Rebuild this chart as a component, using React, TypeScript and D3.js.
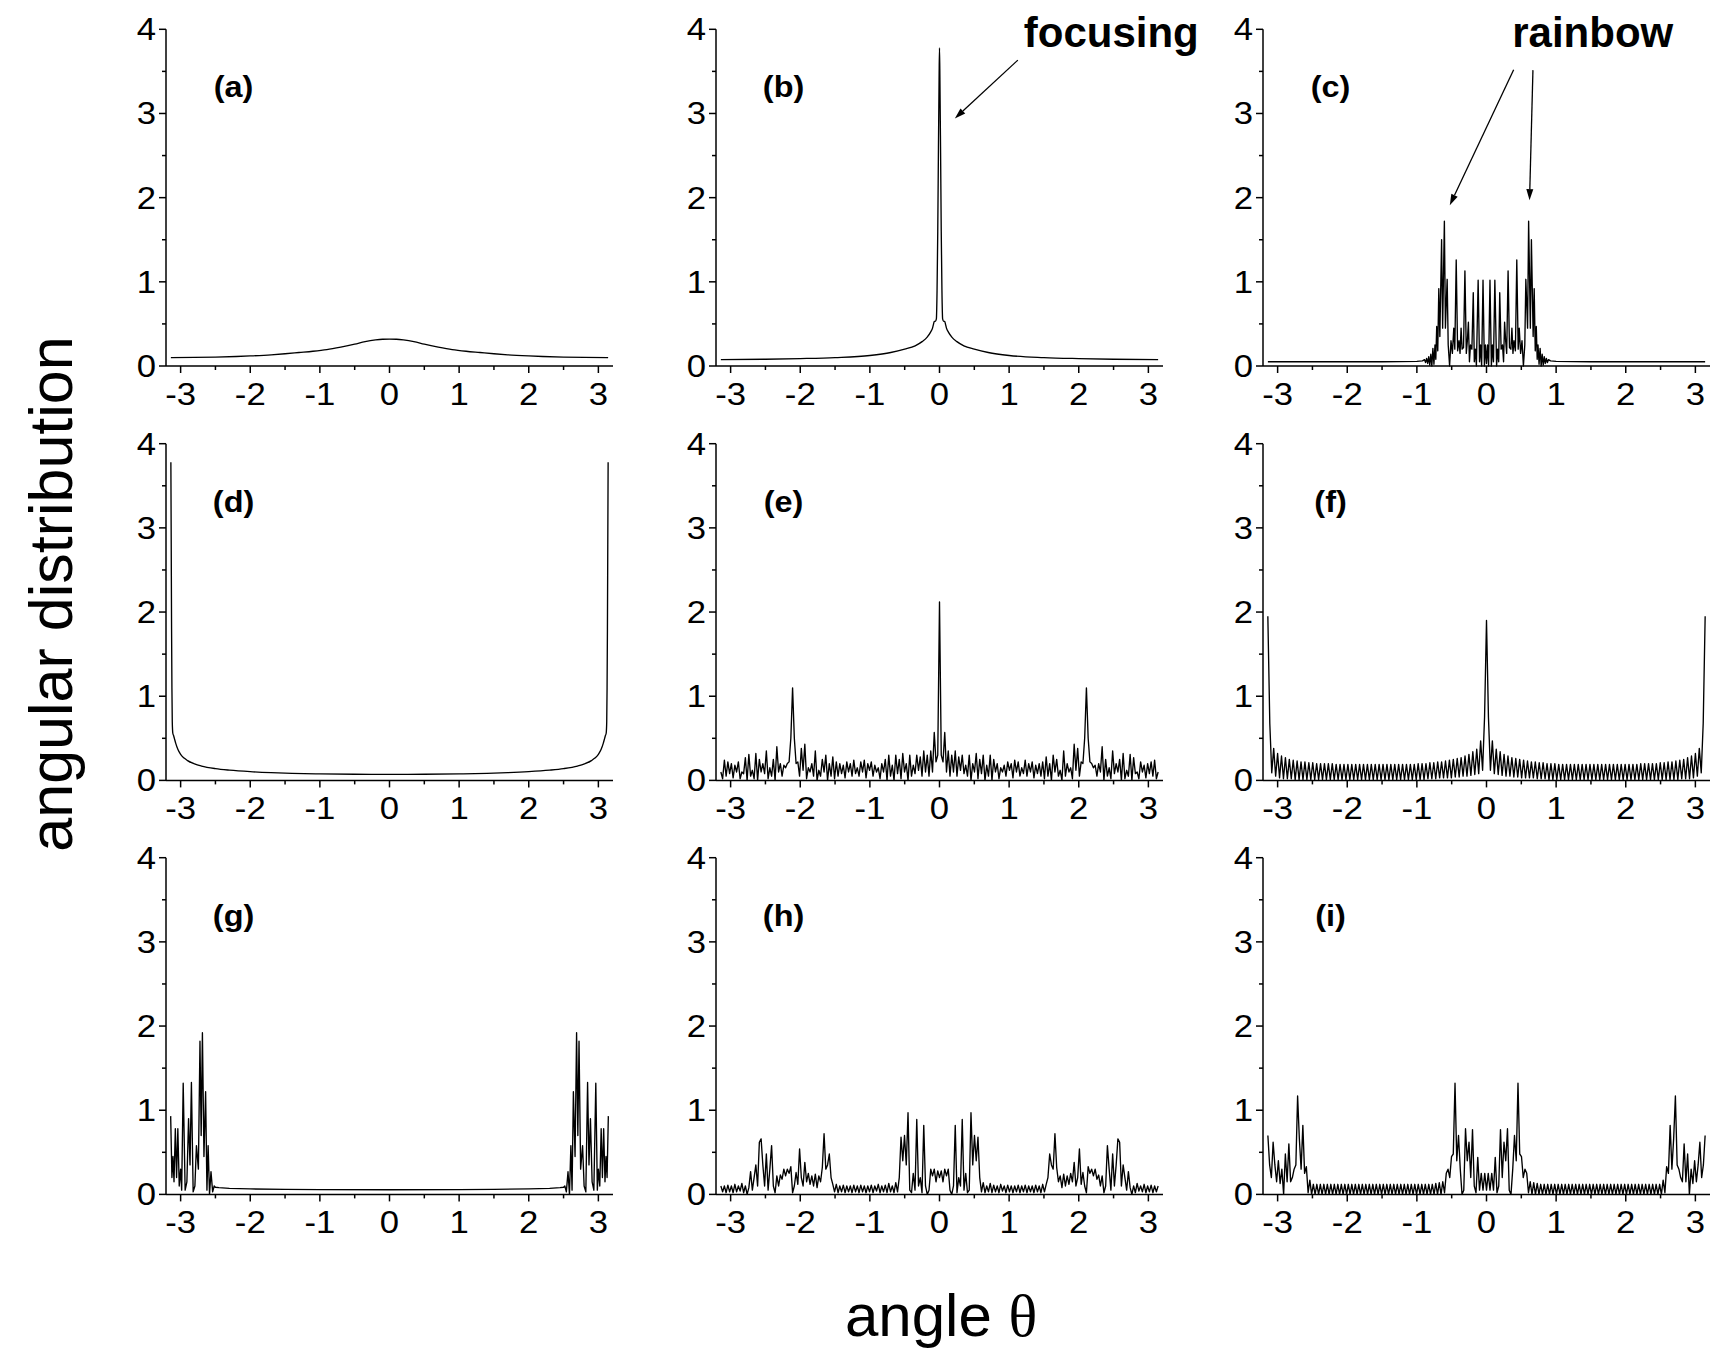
import React from "react";
import * as d3 from "d3";

// ---------- axes / ticks ----------
const thetaDomain: [number, number] = [-3.21, 3.21];
const valueDomain: [number, number] = [0, 4];
const xMajorTicks = [-3, -2, -1, 0, 1, 2, 3];
const xTickLabels = ["-3", "-2", "-1", "0", "1", "2", "3"];
const xMinorTicks = [-2.5, -1.5, -0.5, 0.5, 1.5, 2.5];
const yMajorTicks = [0, 1, 2, 3, 4];
const yTickLabels = ["0", "1", "2", "3", "4"];
const yMinorTicks = [0.5, 1.5, 2.5, 3.5];
const panelLabels = ["(a)", "(b)", "(c)", "(d)", "(e)", "(f)", "(g)", "(h)", "(i)"];

// ---------- data (listed from θ=0 outward) ----------
// pairs: [|θ| offset, value]
const aLeft: [number, number][] = [[0,0.32],[0.1,0.318],[0.2,0.31],[0.35,0.29],[0.5,0.26],[0.7,0.225],[0.9,0.195],[1.1,0.175],[1.3,0.16],[1.5,0.145],[1.7,0.133],[2.0,0.12],[2.2,0.113],[2.5,0.106],[2.8,0.102],[3.14,0.1]];
const aRight: [number, number][] = [[0,0.32],[0.1,0.318],[0.2,0.31],[0.35,0.29],[0.5,0.26],[0.7,0.225],[0.9,0.195],[1.1,0.175],[1.3,0.16],[1.5,0.145],[1.7,0.133],[2.0,0.12],[2.2,0.113],[2.5,0.106],[2.8,0.102],[3.14,0.1]];

const bLeft: [number, number][] = [[0,3.78],[0.006,3.4],[0.015,2.6],[0.025,1.6],[0.035,0.9],[0.045,0.56],[0.06,0.53],[0.075,0.53],[0.085,0.5],[0.1,0.45],[0.13,0.4],[0.18,0.34],[0.25,0.29],[0.35,0.24],[0.5,0.2],[0.7,0.16],[1.0,0.125],[1.5,0.1],[2.0,0.088],[2.5,0.08],[3.14,0.075]];
const bRight: [number, number][] = [[0,3.78],[0.006,3.4],[0.015,2.6],[0.025,1.6],[0.035,0.9],[0.045,0.56],[0.06,0.53],[0.075,0.53],[0.085,0.5],[0.1,0.45],[0.13,0.4],[0.18,0.34],[0.25,0.29],[0.35,0.24],[0.5,0.2],[0.7,0.16],[1.0,0.125],[1.5,0.1],[2.0,0.088],[2.5,0.08],[3.14,0.075]];

const cLeft: [number, number][] = [[0,0.03],[0.015,0.25],[0.03,0.0],[0.05,1.02],[0.07,0.0],[0.085,0.25],[0.1,0.05],[0.12,1.02],[0.145,0.0],[0.16,0.2],[0.175,0.05],[0.19,0.87],[0.21,0.2],[0.23,0.25],[0.245,0.05],[0.26,0.52],[0.275,0.3],[0.29,0.15],[0.31,1.13],[0.33,0.22],[0.35,0.2],[0.365,0.45],[0.38,0.15],[0.395,0.3],[0.415,0.18],[0.435,1.26],[0.455,0.2],[0.47,0.45],[0.49,0.15],[0.51,0.3],[0.53,0.0],[0.55,0.25],[0.565,1.03],[0.59,0.45],[0.605,1.72],[0.63,0.45],[0.645,1.5],[0.67,0.35],[0.685,0.92],[0.7,0.18],[0.715,0.47],[0.728,0.08],[0.74,0.25],[0.755,0.02],[0.77,0.21],[0.785,0.0],[0.8,0.14],[0.815,0.01],[0.83,0.11],[0.845,0.03],[0.86,0.09],[0.875,0.04],[0.89,0.075],[0.92,0.06],[1.0,0.055],[1.5,0.05],[2.0,0.05],[2.5,0.05],[3.14,0.05]];
const cRight: [number, number][] = [[0,0.03],[0.015,0.25],[0.03,0.0],[0.05,1.02],[0.07,0.0],[0.085,0.25],[0.1,0.05],[0.12,1.02],[0.145,0.0],[0.16,0.2],[0.175,0.05],[0.19,0.87],[0.21,0.2],[0.23,0.25],[0.245,0.05],[0.26,0.52],[0.275,0.3],[0.29,0.15],[0.31,1.13],[0.33,0.22],[0.35,0.2],[0.365,0.45],[0.38,0.15],[0.395,0.3],[0.415,0.18],[0.435,1.26],[0.455,0.2],[0.47,0.45],[0.49,0.15],[0.51,0.3],[0.53,0.0],[0.55,0.25],[0.565,1.03],[0.59,0.45],[0.605,1.72],[0.63,0.45],[0.645,1.5],[0.67,0.35],[0.685,0.92],[0.7,0.18],[0.715,0.47],[0.728,0.08],[0.74,0.25],[0.755,0.02],[0.77,0.21],[0.785,0.0],[0.8,0.14],[0.815,0.01],[0.83,0.11],[0.845,0.03],[0.86,0.09],[0.875,0.04],[0.89,0.075],[0.92,0.06],[1.0,0.055],[1.5,0.05],[2.0,0.05],[2.5,0.05],[3.14,0.05]];

const dLeft: [number, number][] = [[0,0.072],[0.5,0.073],[1.0,0.077],[1.4,0.084],[1.7,0.092],[2.0,0.104],[2.3,0.122],[2.5,0.14],[2.7,0.17],[2.8,0.195],[2.9,0.235],[2.95,0.265],[3.0,0.31],[3.04,0.37],[3.07,0.44],[3.09,0.5],[3.1,0.53],[3.112,0.56],[3.12,0.7],[3.125,1.1],[3.13,1.8],[3.135,2.8],[3.14,3.78]];
const dRight: [number, number][] = [[0,0.072],[0.5,0.073],[1.0,0.077],[1.4,0.084],[1.7,0.092],[2.0,0.104],[2.3,0.122],[2.5,0.14],[2.7,0.17],[2.8,0.195],[2.9,0.235],[2.95,0.265],[3.0,0.31],[3.04,0.37],[3.07,0.44],[3.09,0.5],[3.1,0.53],[3.112,0.56],[3.12,0.7],[3.125,1.1],[3.13,1.8],[3.135,2.8],[3.14,3.78]];

const gLeft: [number, number][] = [[0,0.055],[1.0,0.057],[1.5,0.06],[2.0,0.065],[2.3,0.072],[2.45,0.08],[2.5,0.085],[2.518,0.1],[2.54,0.03],[2.564,0.27],[2.585,0.0],[2.605,0.58],[2.622,0.05],[2.641,1.22],[2.665,0.45],[2.687,1.92],[2.705,0.7],[2.722,1.82],[2.745,0.3],[2.773,0.58],[2.795,0.1],[2.82,0.03],[2.845,1.33],[2.865,0.35],[2.886,0.9],[2.91,0.15],[2.935,0.05],[2.963,1.32],[2.985,0.05],[3.0,0.3],[3.02,0.1],[3.04,0.78],[3.058,0.2],[3.076,0.78],[3.095,0.15],[3.11,0.45],[3.125,0.2],[3.143,0.93]];
const gRight: [number, number][] = [[0,0.055],[1.0,0.057],[1.5,0.06],[2.0,0.065],[2.3,0.072],[2.45,0.08],[2.5,0.085],[2.518,0.1],[2.54,0.03],[2.564,0.27],[2.585,0.0],[2.605,0.58],[2.622,0.05],[2.641,1.22],[2.665,0.45],[2.687,1.92],[2.705,0.7],[2.722,1.82],[2.745,0.3],[2.773,0.58],[2.795,0.1],[2.82,0.03],[2.845,1.33],[2.865,0.35],[2.886,0.9],[2.91,0.15],[2.935,0.05],[2.963,1.32],[2.985,0.05],[3.0,0.3],[3.02,0.1],[3.04,0.78],[3.058,0.2],[3.076,0.78],[3.095,0.15],[3.11,0.45],[3.125,0.2],[3.143,0.93]];

// uniform θ grids, values listed from θ=0 outward
const stepE = 0.02512;
const eLeft = [2.12,0.3,0.22,0.57,0.1,0.35,0.05,0.3,0.1,0.35,0.05,0.28,0.12,0.3,0.08,0.18,0.05,0.3,0.0,0.2,0.1,0.32,0.02,0.25,0.08,0.3,0.0,0.18,0.05,0.3,0.0,0.25,0.1,0.2,0.02,0.15,0.1,0.18,0.05,0.22,0.12,0.2,0.03,0.24,0.1,0.22,0.05,0.15,0.08,0.24,0.05,0.2,0.1,0.22,0.03,0.18,0.08,0.2,0.05,0.22,0.02,0.28,0.05,0.2,0.0,0.3,0.1,0.25,0.05,0.12,0.0,0.35,0.05,0.2,0.1,0.15,0.02,0.43,0.12,0.38,0.05,0.22,0.2,0.5,1.1,0.5,0.22,0.2,0.15,0.18,0.05,0.2,0.1,0.4,0.0,0.25,0.05,0.15,0.02,0.35,0.08,0.2,0.1,0.25,0.0,0.32,0.02,0.12,0.05,0.31,0.0,0.27,0.08,0.1,0.02,0.22,0.1,0.18,0.03,0.2,0.08,0.22,0.05,0.24,0.02,0.1];
const eRight = [2.12,0.3,0.22,0.57,0.1,0.35,0.05,0.3,0.1,0.35,0.05,0.28,0.12,0.3,0.08,0.18,0.05,0.3,0.0,0.2,0.1,0.32,0.02,0.25,0.08,0.3,0.0,0.18,0.05,0.3,0.0,0.25,0.1,0.2,0.02,0.15,0.1,0.18,0.05,0.22,0.12,0.2,0.03,0.24,0.1,0.22,0.05,0.15,0.08,0.24,0.05,0.2,0.1,0.22,0.03,0.18,0.08,0.2,0.05,0.22,0.02,0.28,0.05,0.2,0.0,0.3,0.1,0.25,0.05,0.12,0.0,0.35,0.05,0.2,0.1,0.15,0.02,0.43,0.12,0.38,0.05,0.22,0.2,0.5,1.1,0.5,0.22,0.2,0.15,0.18,0.05,0.2,0.1,0.4,0.0,0.25,0.05,0.15,0.02,0.35,0.08,0.2,0.1,0.25,0.0,0.32,0.02,0.12,0.05,0.31,0.0,0.27,0.08,0.1,0.02,0.22,0.1,0.18,0.03,0.2,0.08,0.22,0.05,0.24,0.02,0.1];

const stepF = 0.02804;
const fLeft = [1.9,0.75,0.12,0.47,0.08,0.37,0.07,0.34,0.06,0.31,0.05,0.29,0.05,0.27,0.04,0.26,0.04,0.25,0.03,0.24,0.03,0.23,0.03,0.22,0.03,0.22,0.02,0.21,0.02,0.21,0.02,0.2,0.01,0.2,0.01,0.2,0.01,0.19,0.01,0.19,0.01,0.19,0.01,0.19,0.01,0.19,0.01,0.19,0.01,0.19,0.01,0.19,0.01,0.19,0.01,0.19,0.01,0.19,0.01,0.19,0.01,0.19,0.01,0.19,0.01,0.19,0.01,0.19,0.01,0.19,0.01,0.19,0.01,0.19,0.01,0.19,0.01,0.19,0.01,0.2,0.01,0.2,0.01,0.2,0.01,0.2,0.01,0.2,0.01,0.21,0.01,0.21,0.01,0.22,0.01,0.22,0.01,0.23,0.01,0.24,0.02,0.25,0.02,0.27,0.02,0.29,0.03,0.32,0.05,0.38,0.09,0.68,1.95];
const fRight = [1.9,0.75,0.12,0.47,0.08,0.37,0.07,0.34,0.06,0.31,0.05,0.29,0.05,0.27,0.04,0.26,0.04,0.25,0.03,0.24,0.03,0.23,0.03,0.22,0.03,0.22,0.02,0.21,0.02,0.21,0.02,0.2,0.01,0.2,0.01,0.2,0.01,0.19,0.01,0.19,0.01,0.19,0.01,0.19,0.01,0.19,0.01,0.19,0.01,0.19,0.01,0.19,0.01,0.19,0.01,0.19,0.01,0.19,0.01,0.19,0.01,0.19,0.01,0.19,0.01,0.19,0.01,0.19,0.01,0.19,0.01,0.19,0.01,0.19,0.01,0.19,0.01,0.19,0.01,0.2,0.01,0.2,0.01,0.2,0.01,0.2,0.01,0.2,0.01,0.21,0.01,0.21,0.01,0.22,0.01,0.22,0.01,0.23,0.01,0.24,0.02,0.25,0.02,0.27,0.02,0.29,0.03,0.32,0.05,0.38,0.09,0.68,1.95];

const stepH = 0.02512;
const hLeft = [0.2,0.28,0.15,0.3,0.22,0.3,0.05,0.0,0.1,0.82,0.02,0.2,0.1,0.89,0.05,0.25,0.02,0.05,0.97,0.35,0.7,0.4,0.68,0.2,0.03,0.14,0.02,0.1,0.03,0.13,0.02,0.11,0.03,0.1,0.02,0.12,0.04,0.1,0.02,0.11,0.03,0.1,0.02,0.1,0.03,0.11,0.02,0.1,0.03,0.11,0.02,0.1,0.03,0.1,0.02,0.11,0.03,0.1,0.02,0.12,0.03,0.12,0.2,0.48,0.35,0.3,0.72,0.32,0.15,0.22,0.08,0.24,0.1,0.22,0.12,0.25,0.15,0.38,0.1,0.2,0.54,0.12,0.26,0.1,0.02,0.33,0.25,0.3,0.22,0.3,0.18,0.23,0.1,0.22,0.02,0.1,0.58,0.3,0.05,0.48,0.1,0.35,0.66,0.62,0.1,0.35,0.2,0.05,0.27,0.08,0.0,0.1,0.02,0.13,0.04,0.1,0.03,0.12,0.02,0.1,0.03,0.11,0.02,0.1,0.03,0.1];
const hRight = [0.2,0.28,0.15,0.3,0.22,0.3,0.05,0.0,0.1,0.82,0.02,0.2,0.1,0.89,0.05,0.25,0.02,0.05,0.97,0.35,0.7,0.4,0.68,0.2,0.03,0.14,0.02,0.1,0.03,0.13,0.02,0.11,0.03,0.1,0.02,0.12,0.04,0.1,0.02,0.11,0.03,0.1,0.02,0.1,0.03,0.11,0.02,0.1,0.03,0.11,0.02,0.1,0.03,0.1,0.02,0.11,0.03,0.1,0.02,0.12,0.03,0.12,0.2,0.48,0.35,0.3,0.72,0.32,0.15,0.22,0.08,0.24,0.1,0.22,0.12,0.25,0.15,0.38,0.1,0.2,0.54,0.12,0.26,0.1,0.02,0.33,0.25,0.3,0.22,0.3,0.18,0.23,0.1,0.22,0.02,0.1,0.58,0.3,0.05,0.48,0.1,0.35,0.66,0.62,0.1,0.35,0.2,0.05,0.27,0.08,0.0,0.1,0.02,0.13,0.04,0.1,0.03,0.12,0.02,0.1,0.03,0.11,0.02,0.1,0.03,0.1];

const stepI = 0.02512;
const iLeft = [0.05,0.25,0.05,0.25,0.05,0.44,0.02,0.1,0.77,0.2,0.62,0.4,0.78,0.05,0.0,0.3,0.7,0.4,1.32,0.48,0.45,0.2,0.3,0.25,0.02,0.15,0.0,0.14,0.0,0.13,0.0,0.12,0.0,0.12,0.0,0.12,0.0,0.12,0.0,0.12,0.0,0.12,0.0,0.12,0.0,0.12,0.0,0.12,0.0,0.12,0.0,0.12,0.0,0.12,0.0,0.12,0.0,0.12,0.0,0.12,0.0,0.12,0.0,0.12,0.0,0.12,0.0,0.12,0.0,0.12,0.0,0.12,0.0,0.12,0.0,0.12,0.0,0.12,0.0,0.12,0.0,0.12,0.0,0.12,0.0,0.12,0.0,0.12,0.0,0.12,0.0,0.12,0.0,0.12,0.0,0.12,0.0,0.12,0.0,0.12,0.0,0.17,0.02,0.33,0.25,0.82,0.3,0.66,1.17,0.35,0.3,0.2,0.15,0.6,0.15,0.48,0.0,0.3,0.13,0.4,0.15,0.35,0.62,0.2,0.35,0.7];
const iRight = [0.05,0.25,0.05,0.25,0.05,0.44,0.02,0.1,0.77,0.2,0.62,0.4,0.78,0.05,0.0,0.3,0.7,0.4,1.32,0.48,0.45,0.2,0.3,0.25,0.02,0.15,0.0,0.14,0.0,0.13,0.0,0.12,0.0,0.12,0.0,0.12,0.0,0.12,0.0,0.12,0.0,0.12,0.0,0.12,0.0,0.12,0.0,0.12,0.0,0.12,0.0,0.12,0.0,0.12,0.0,0.12,0.0,0.12,0.0,0.12,0.0,0.12,0.0,0.12,0.0,0.12,0.0,0.12,0.0,0.12,0.0,0.12,0.0,0.12,0.0,0.12,0.0,0.12,0.0,0.12,0.0,0.12,0.0,0.12,0.0,0.12,0.0,0.12,0.0,0.12,0.0,0.12,0.0,0.12,0.0,0.12,0.0,0.12,0.0,0.12,0.0,0.17,0.02,0.33,0.25,0.82,0.3,0.66,1.17,0.35,0.3,0.2,0.15,0.6,0.15,0.48,0.0,0.3,0.13,0.4,0.15,0.35,0.62,0.2,0.35,0.7];

// annotations (data coordinates of the panel they sit in)
const focusingArrows = [{ from: [1.125, 3.634], to: [0.22, 2.94] }];
const rainbowArrows = [
  { from: [0.39, 3.52], to: [-0.527, 1.91] },
  { from: [0.667, 3.515], to: [0.618, 1.97] },
];

// ---------- assembly ----------
type Pt = [number, number];
function fromPairs(left: Pt[], right: Pt[]): Pt[] {
  const pts: Pt[] = [];
  for (let k = left.length - 1; k >= 1; k--) pts.push([-left[k][0], left[k][1]]);
  for (const p of right) pts.push([p[0], p[1]]);
  return pts;
}
function fromGrid(step: number, left: number[], right: number[]): Pt[] {
  const pts: Pt[] = [];
  for (let k = left.length - 1; k >= 1; k--) pts.push([-k * step, left[k]]);
  for (let k = 0; k < right.length; k++) pts.push([k * step, right[k]]);
  return pts;
}

const seriesList: { data: Pt[]; smooth: boolean }[] = [
  { data: fromPairs(aLeft, aRight), smooth: true },
  { data: fromPairs(bLeft, bRight), smooth: true },
  { data: fromPairs(cLeft, cRight), smooth: false },
  { data: fromPairs(dLeft, dRight), smooth: true },
  { data: fromGrid(stepE, eLeft, eRight), smooth: false },
  { data: fromGrid(stepF, fLeft, fRight), smooth: false },
  { data: fromPairs(gLeft, gRight), smooth: false },
  { data: fromGrid(stepH, hLeft, hRight), smooth: false },
  { data: fromGrid(stepI, iLeft, iRight), smooth: false },
];

// ---------- layout ----------
const W = 1712;
const H = 1349;
const colLeft = [166, 716, 1263];
const rowTop = [29.3, 443.7, 857.7];
const plotW = 447;
const plotH = 336.7;
const SANS = "'Liberation Sans', Arial, Helvetica, sans-serif";
const TICK_FS = 31;
const TICK_SX = 1.12;

function Arrow({ x1, y1, x2, y2 }: { x1: number; y1: number; x2: number; y2: number }) {
  const dx = x2 - x1, dy = y2 - y1;
  const len = Math.hypot(dx, dy);
  const ux = dx / len, uy = dy / len;
  const L = 11, w = 3.5;
  const bx = x2 - ux * L, by = y2 - uy * L;
  const p1 = `${x2},${y2}`;
  const p2 = `${bx - uy * w},${by + ux * w}`;
  const p3 = `${bx + uy * w},${by - ux * w}`;
  return (
    <g>
      <line x1={x1} y1={y1} x2={bx} y2={by} stroke="#000" strokeWidth={1.3} />
      <polygon points={`${p1} ${p2} ${p3}`} fill="#000" />
    </g>
  );
}

export default function App() {
  return (
    <svg
      width={W}
      height={H}
      viewBox={`0 0 ${W} ${H}`}
      style={{ position: "absolute", left: 0, top: 0, background: "#fff" }}
      fontFamily={SANS}
    >
      <rect x={0} y={0} width={W} height={H} fill="#fff" />
      {seriesList.map((s, i) => {
        const col = i % 3;
        const row = Math.floor(i / 3);
        const x = d3.scaleLinear().domain(thetaDomain).range([colLeft[col], colLeft[col] + plotW]);
        const y = d3.scaleLinear().domain(valueDomain).range([rowTop[row] + plotH, rowTop[row]]);
        const line = d3
          .line<Pt>()
          .x((d) => x(d[0]))
          .y((d) => y(d[1]))
          .curve(s.smooth ? d3.curveMonotoneX : d3.curveLinear);
        const x0 = x(thetaDomain[0]);
        const y0 = y(0);
        return (
          <g key={i}>
            <path d={line(s.data) || ""} fill="none" stroke="#000" strokeWidth={1.35} strokeLinejoin="round" />
            {/* axes */}
            <line x1={x0} y1={y0} x2={x(thetaDomain[1])} y2={y0} stroke="#000" strokeWidth={1.5} />
            <line x1={x0} y1={y0} x2={x0} y2={y(4)} stroke="#000" strokeWidth={1.5} />
            {xMajorTicks.map((t, j) => (
              <g key={"xt" + j}>
                <line x1={x(t)} x2={x(t)} y1={y0} y2={y0 + 7} stroke="#000" strokeWidth={1.5} />
                <text
                  transform={`translate(${x(t)},${y0 + 38.5}) scale(${TICK_SX},1)`}
                  fontSize={TICK_FS}
                  textAnchor="middle"
                  fill="#000"
                >
                  {xTickLabels[j]}
                </text>
              </g>
            ))}
            {xMinorTicks.map((t, j) => (
              <line key={"xm" + j} x1={x(t)} x2={x(t)} y1={y0} y2={y0 + 4} stroke="#000" strokeWidth={1.5} />
            ))}
            {yMajorTicks.map((t, j) => (
              <g key={"yt" + j}>
                <line x1={x0 - 7} x2={x0} y1={y(t)} y2={y(t)} stroke="#000" strokeWidth={1.5} />
                <text
                  transform={`translate(${x0 - 10},${y(t) + 11}) scale(${TICK_SX},1)`}
                  fontSize={TICK_FS}
                  textAnchor="end"
                  fill="#000"
                >
                  {yTickLabels[j]}
                </text>
              </g>
            ))}
            {yMinorTicks.map((t, j) => (
              <line key={"ym" + j} x1={x0 - 4} x2={x0} y1={y(t)} y2={y(t)} stroke="#000" strokeWidth={1.5} />
            ))}
            <text
              transform={`translate(${x(-2.24)},${y(3.19)}) scale(1.08,1)`}
              fontSize={30}
              fontWeight="bold"
              textAnchor="middle"
              fill="#000"
            >
              {panelLabels[i]}
            </text>
            {i === 1 && (
              <g>
                <text x={x(1.21)} y={y(3.79)} fontSize={42} fontWeight="bold" fill="#000">focusing</text>
                {focusingArrows.map((a, k) => (
                  <Arrow key={k} x1={x(a.from[0])} y1={y(a.from[1])} x2={x(a.to[0])} y2={y(a.to[1])} />
                ))}
              </g>
            )}
            {i === 2 && (
              <g>
                <text x={x(0.37)} y={y(3.79)} fontSize={42} fontWeight="bold" fill="#000">rainbow</text>
                {rainbowArrows.map((a, k) => (
                  <Arrow key={k} x1={x(a.from[0])} y1={y(a.from[1])} x2={x(a.to[0])} y2={y(a.to[1])} />
                ))}
              </g>
            )}
          </g>
        );
      })}
      <text
        transform="translate(71.5,594) rotate(-90)"
        fontSize={61}
        textAnchor="middle"
        fill="#000"
      >
        angular distribution
      </text>
      <text x={845} y={1336} fontSize={60} fill="#000">
        angle{" "}
        <tspan fontFamily="'Liberation Serif', 'Times New Roman', serif">θ</tspan>
      </text>
    </svg>
  );
}
